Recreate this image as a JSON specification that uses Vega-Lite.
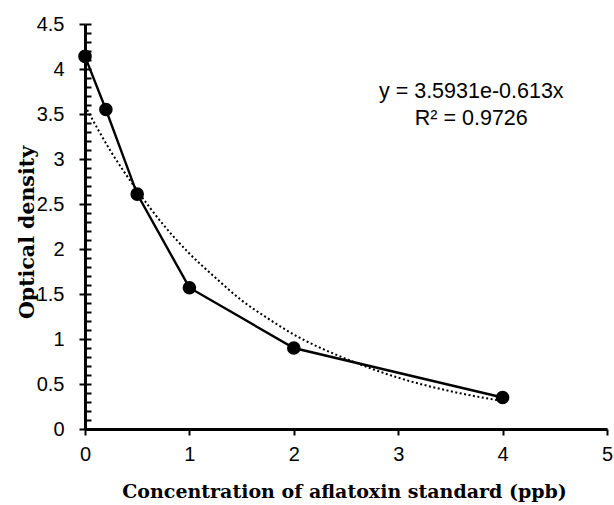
{
  "$schema": "https://vega.github.io/schema/vega-lite/v6.json",
  "width": 522,
  "height": 405,
  "autosize": {"type": "none"},
  "padding": {"left": 85, "top": 24, "right": 7, "bottom": 76},
  "background": "white",
  "config": {"view": {"stroke": null}},
  "datasets": {
    "standard": [
      {"conc": 0, "od": 4.14},
      {"conc": 0.2, "od": 3.55},
      {"conc": 0.5, "od": 2.61},
      {"conc": 1, "od": 1.57},
      {"conc": 2, "od": 0.9},
      {"conc": 4, "od": 0.35}
    ],
    "trend": [
      {"conc": 0, "od": 3.59},
      {"conc": 0.25, "od": 3.08},
      {"conc": 0.5, "od": 2.65},
      {"conc": 0.75, "od": 2.27},
      {"conc": 1, "od": 1.95},
      {"conc": 1.25, "od": 1.68},
      {"conc": 1.5, "od": 1.43},
      {"conc": 1.75, "od": 1.23},
      {"conc": 2, "od": 1.05},
      {"conc": 2.5, "od": 0.78},
      {"conc": 3, "od": 0.57},
      {"conc": 3.5, "od": 0.42},
      {"conc": 4, "od": 0.31}
    ]
  },
  "resolve": {"axis": {"y": "independent"}},
  "layer": [
    {
      "data": {"name": "trend"},
      "mark": {"type": "line", "color": "black", "strokeWidth": 2, "strokeDash": [2, 2.5], "interpolate": "monotone"},
      "encoding": {
        "x": {"field": "conc", "type": "quantitative"},
        "y": {"field": "od", "type": "quantitative",
          "axis": {"orient": "left", "values": [0,0.1,0.2,0.3,0.4,0.5,0.6,0.7,0.8,0.9,1,1.1,1.2,1.3,1.4,1.5,1.6,1.7,1.8,1.9,2,2.1,2.2,2.3,2.4,2.5,2.6,2.7,2.8,2.9,3,3.1,3.2,3.3,3.4,3.5,3.6,3.7,3.8,3.9,4,4.1,4.2,4.3,4.4,4.5],
            "labels": false, "domain": false, "grid": false, "title": null, "tickSize": -6, "tickWidth": 2, "tickColor": "black"}}
      }
    },
    {
      "data": {"name": "standard"},
      "mark": {"type": "line", "color": "black", "strokeWidth": 2.4, "point": {"filled": true, "size": 185, "color": "black", "opacity": 1}},
      "encoding": {
        "x": {"field": "conc", "type": "quantitative",
          "scale": {"domain": [0, 5], "nice": false},
          "axis": {"values": [0,1,2,3,4,5], "format": "d", "grid": false, "domainColor": "black", "domainWidth": 3,
            "tickColor": "black", "tickWidth": 2, "tickSize": 6, "labelFont": "Liberation Sans", "labelFontSize": 20,
            "labelColor": "black", "labelPadding": 9, "labelFlush": false,
            "title": "Concentration of aflatoxin standard (ppb)", "titleFont": "DejaVu Serif", "titleFontSize": 19,
            "titleFontWeight": "bold", "titleColor": "black", "titleBaseline": "alphabetic", "titleY": 68, "titleX": 259}},
        "y": {"field": "od", "type": "quantitative",
          "scale": {"domain": [0, 4.5], "nice": false},
          "axis": {"orient": "left", "values": [0,0.5,1,1.5,2,2.5,3,3.5,4,4.5], "format": "~g", "grid": false, "domainColor": "black", "domainWidth": 3,
            "tickColor": "black", "tickWidth": 2, "tickSize": 6, "labelFont": "Liberation Sans", "labelFontSize": 20,
            "labelColor": "black", "labelPadding": 15, "labelFlush": false,
            "title": "Optical density", "titleFont": "DejaVu Serif", "titleFontSize": 20.5,
            "titleFontWeight": "bold", "titleColor": "black", "titleAngle": 270, "titleBaseline": "middle",
            "titleAlign": "center", "titleX": -58, "titleY": 208}}
      }
    },
    {
      "data": {"values": [{"label": "trend"}]},
      "mark": {"type": "text", "font": "Liberation Sans", "fontSize": 21.5, "fontWeight": "normal", "color": "black", "align": "center", "baseline": "middle", "lineHeight": 27},
      "encoding": {
        "x": {"datum": 3.7, "type": "quantitative"},
        "y": {"datum": 3.74, "type": "quantitative", "axis": null},
        "text": {"value": ["y = 3.5931e-0.613x", "R² = 0.9726"]}
      }
    }
  ]
}
